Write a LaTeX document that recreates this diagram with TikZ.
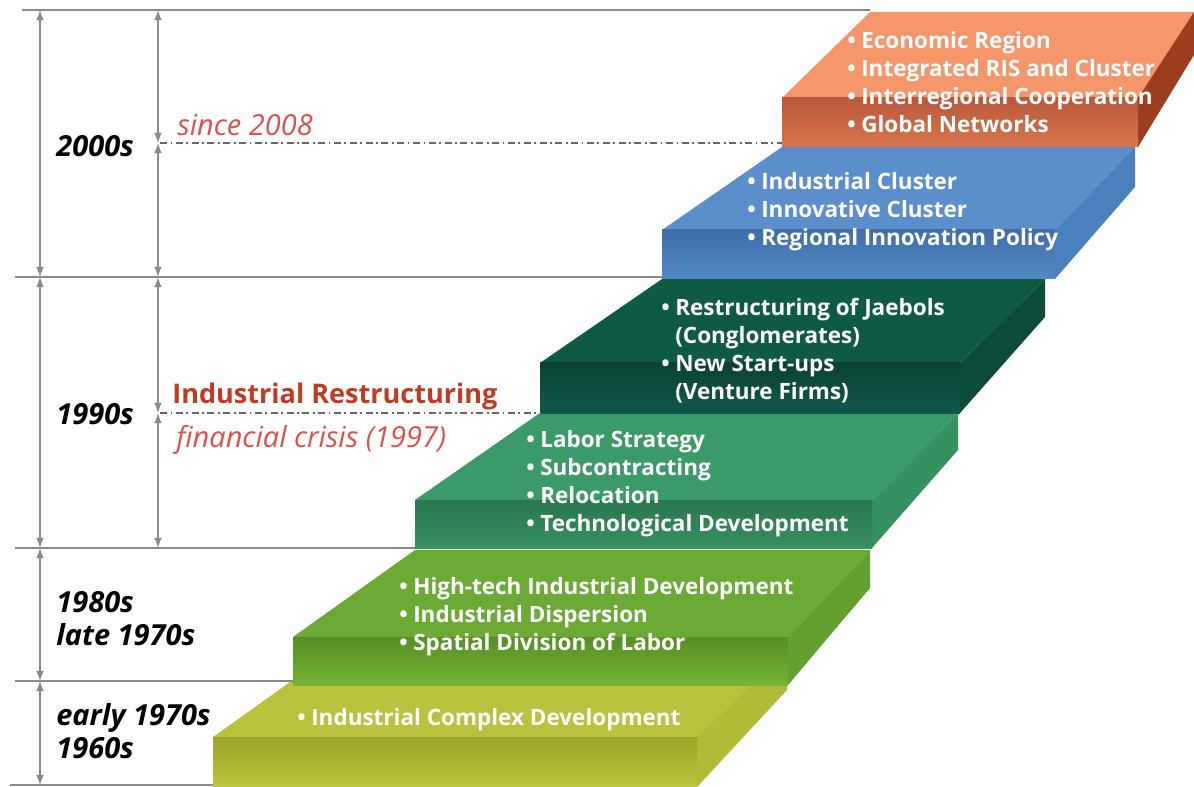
\documentclass[tikz,border=0pt]{standalone}
\usepackage{fontspec}
\setmainfont{Open Sans}
\usetikzlibrary{arrows,positioning}

\definecolor{axisgray}{HTML}{8A8A8A}
\definecolor{notered}{HTML}{E0504A}
\definecolor{darkred}{HTML}{C23A22}
% steps: top / front dark / front light / side
\definecolor{orTop}{HTML}{F5966B}
\definecolor{orFrA}{HTML}{B9583A}
\definecolor{orFrB}{HTML}{D9764E}
\definecolor{orSide}{HTML}{9C3E1E}
\definecolor{blTop}{HTML}{5B8FCB}
\definecolor{blFrA}{HTML}{3F6EA8}
\definecolor{blFrB}{HTML}{5489C6}
\definecolor{blSide}{HTML}{4B80BE}
\definecolor{dgTop}{HTML}{0F5A45}
\definecolor{dgFrA}{HTML}{0A4232}
\definecolor{dgFrB}{HTML}{11584A}
\definecolor{dgSide}{HTML}{0C4B39}
\definecolor{tlTop}{HTML}{3A9A69}
\definecolor{tlFrA}{HTML}{2A7650}
\definecolor{tlFrB}{HTML}{379060}
\definecolor{tlSide}{HTML}{35915E}
\definecolor{grTop}{HTML}{6AAA35}
\definecolor{grFrA}{HTML}{558F26}
\definecolor{grFrB}{HTML}{76B532}
\definecolor{grSide}{HTML}{62A12E}
\definecolor{ylTop}{HTML}{BAC23D}
\definecolor{ylFrA}{HTML}{9CA42A}
\definecolor{ylFrB}{HTML}{BCC43F}
\definecolor{ylSide}{HTML}{B2BA38}

\newcommand{\bul}{\makebox[0.62em][l]{\textbullet}}
\newcommand{\ind}{\hspace*{0.62em}}

\begin{document}
\begin{tikzpicture}[x=0.02cm, y=-0.02cm, >=latex]
  \tikzstyle{axis}=[draw=axisgray, line width=1pt]
  \tikzstyle{dimarrow}=[<->, draw=axisgray, fill=axisgray, line width=1pt]
  \tikzstyle{guide}=[draw=gray!80!black, line width=0.6pt, dash pattern=on 4pt off 2pt on 1pt off 2pt]
  \tikzstyle{items}=[text=white, font=\bfseries\fontsize{12.8}{15.9}\selectfont, align=left, anchor=west, inner sep=0pt]
  \tikzstyle{era}=[font=\bfseries\itshape\fontsize{16.5}{18.7}\selectfont, align=left, anchor=west, inner sep=0pt]
  \tikzstyle{note}=[text=notered, font=\itshape\fontsize{16.5}{18}\selectfont, anchor=west, inner sep=0pt]

  \useasboundingbox (0,0) rectangle (1194,787);

  % Escada (de baixo para cima)
  \fill[ylTop] (213,737) -- (697,737) -- (787,650) -- (335,650) -- cycle;
  \fill[ylSide] (697,737) -- (787,650) -- (787,690) -- (697,787) -- cycle;
  \fill[top color=ylFrA, bottom color=ylFrB] (213,737) rectangle (697,787);

  \fill[grTop] (293,637) -- (788,637) -- (870,550) -- (415,550) -- cycle;
  \fill[grSide] (788,637) -- (870,550) -- (870,588) -- (788,685) -- cycle;
  \fill[top color=grFrA, bottom color=grFrB] (293,637) rectangle (788,685);

  \fill[tlTop] (415,500) -- (872,500) -- (958,413) -- (540,413) -- cycle;
  \fill[tlSide] (872,500) -- (958,413) -- (958,450) -- (872,548) -- cycle;
  \fill[top color=tlFrA, bottom color=tlFrB] (415,500) rectangle (872,548);

  \fill[dgTop] (540,363) -- (960,363) -- (1045,279) -- (662,279) -- cycle;
  \fill[dgSide] (960,363) -- (1045,279) -- (1045,317) -- (960,413) -- cycle;
  \fill[top color=dgFrA, bottom color=dgFrB] (540,363) rectangle (960,413);

  \fill[blTop] (662,230) -- (1055,230) -- (1135,147) -- (782,147) -- cycle;
  \fill[blSide] (1055,230) -- (1135,147) -- (1135,187) -- (1055,279) -- cycle;
  \fill[top color=blFrA, bottom color=blFrB] (662,230) rectangle (1055,279);

  \fill[orTop] (782,98) -- (1138,98) -- (1194,12) -- (870,12) -- cycle;
  \fill[orSide] (1138,98) -- (1194,12) -- (1194,55) -- (1138,147) -- cycle;
  \fill[top color=orFrA, bottom color=orFrB] (782,98) rectangle (1138,147);

  % Linhas de referencia
  \draw[axis] (22,10) -- (870,10);
  \draw[axis] (15,277) -- (662,277);
  \draw[axis] (15,548) -- (415,548);
  \draw[axis] (15,681) -- (293,681);
  \draw[axis] (10,785) -- (213,785);
  \draw[guide] (160,143) -- (782,143);
  \draw[guide] (160,413) -- (540,413);

  % Setas
  \coordinate (o0) at (40,10);
  \coordinate (o1) at (40,277);
  \coordinate (o2) at (40,548);
  \coordinate (o3) at (40,681);
  \coordinate (o4) at (40,785);
  \coordinate (i0) at (158,10);
  \coordinate (i1) at (158,143);
  \coordinate (i2) at (158,277);
  \coordinate (i3) at (158,413);
  \coordinate (i4) at (158,548);
  \draw[dimarrow] (o0) -- (o1);
  \draw[dimarrow] (o1) -- (o2);
  \draw[dimarrow] (o2) -- (o3);
  \draw[dimarrow] (o3) -- (o4);
  \draw[dimarrow] (i0) -- (i1);
  \draw[dimarrow] (i1) -- (i2);
  \draw[dimarrow] (i2) -- (i3);
  \draw[dimarrow] (i3) -- (i4);

  % Periodos
  \node[era] (e2000) at (56,146) {2000s};
  \node[era] (e1990) at (56,414) {1990s};
  \node[era] (e1980) at (56,619) {1980s\\late 1970s};
  \node[era] (e1960) at (56,731) {early 1970s\\1960s};

  \node[note] (since) at (177,125) {since 2008};
  \node[note, text=darkred, font=\bfseries\fontsize{15.4}{18}\selectfont] (restr) at (172,396) {Industrial Restructuring};
  \node[note] (crisis) at (176,440) {financial crisis (1997)};

  % Textos dos degraus
  \node[items] (orText) at (847,82) {\bul Economic Region\\\bul Integrated RIS and Cluster\\\bul Interregional Cooperation\\\bul Global Networks};
  \node[items] (blText) at (747,212) {\bul Industrial Cluster\\\bul Innovative Cluster\\\bul Regional Innovation Policy};
  \node[items] (dgText) at (661,351) {\bul Restructuring of Jaebols\\\ind(Conglomerates)\\\bul New Start-ups\\\ind(Venture Firms)};
  \node[items] (tlText) at (526,484) {\bul Labor Strategy\\\bul Subcontracting\\\bul Relocation\\\bul Technological Development};
  \node[items] (grText) at (399,617) {\bul High-tech Industrial Development\\\bul Industrial Dispersion\\\bul Spatial Division of Labor};
  \node[items] (ylText) at (297,720) {\bul Industrial Complex Development};
\end{tikzpicture}
\end{document}
